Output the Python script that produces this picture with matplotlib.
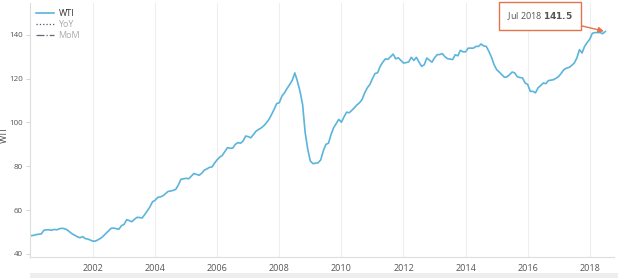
import matplotlib
matplotlib.use("Agg")
import matplotlib.pyplot as plt
from matplotlib.lines import Line2D
from matplotlib.patches import Rectangle
import numpy as np

plt.rcParams['font.family'] = ['Open Sans', 'DejaVu Sans']

start_year = 2000
wti = [
    # 2000
    48.3, 48.5, 48.8, 49.0, 49.1, 50.8, 51.0, 51.0, 50.8, 51.2, 51.0, 51.5,
    # 2001
    51.7, 51.5, 51.0, 50.0, 49.1, 48.5, 47.8, 47.4, 47.9, 47.0, 46.8, 46.3,
    # 2002
    45.8, 45.9, 46.5, 47.2, 48.2, 49.4, 50.5, 51.7, 51.8, 51.5, 51.3, 52.9,
    # 2003
    53.5, 55.6, 55.2, 54.7, 55.8, 56.7, 56.6, 56.4, 58.0, 59.7, 61.5, 63.8,
    # 2004
    64.5, 65.8, 66.0, 66.5, 67.5, 68.5, 68.7, 69.0, 69.5, 71.5, 74.1, 74.3,
    # 2005
    74.5, 74.3, 75.5, 76.7, 76.3, 75.9, 76.8, 78.2, 78.8, 79.5, 79.7, 81.5,
    # 2006
    83.0, 84.2, 85.0, 86.8, 88.5, 88.2, 88.3, 90.0, 90.8, 90.5, 91.5, 93.8,
    # 2007
    93.5, 93.0, 94.5, 96.0, 96.8, 97.5, 98.5, 99.8, 101.4, 103.6, 106.0, 108.6,
    # 2008
    109.0, 112.0, 113.5, 115.5, 117.3, 119.2, 122.6, 118.8, 114.2, 108.2, 95.3, 87.7,
    # 2009
    82.4, 81.2, 81.4, 81.6, 82.9, 87.0, 90.0, 90.5, 94.5, 97.6, 99.5, 101.4,
    # 2010
    100.1, 102.5, 104.7, 104.4, 105.5, 106.7, 108.0, 109.0, 110.5, 113.5, 115.8, 117.3,
    # 2011
    120.0, 122.3, 122.7, 125.6, 127.5, 129.0, 128.8, 130.0, 131.2, 129.0, 129.5, 128.3,
    # 2012
    127.1, 127.3, 127.6, 129.7, 128.3, 129.7, 127.5, 125.6, 126.3, 129.4, 128.4, 127.5,
    # 2013
    129.5, 130.9, 131.0, 131.4, 130.0, 129.1, 128.9, 128.7, 130.9, 130.4, 132.9, 132.2,
    # 2014
    132.2, 133.9, 133.9, 133.9, 134.7, 134.7, 135.8, 134.9, 134.7, 132.4, 129.8, 126.4,
    # 2015
    124.1, 123.0, 121.8, 120.6, 120.8, 121.8, 123.0, 122.6, 120.8, 120.5, 120.3, 118.0,
    # 2016
    117.3, 114.2, 114.2, 113.5, 115.8, 116.8, 118.0, 117.7, 119.1, 119.3, 119.5, 120.2,
    # 2017
    121.0, 122.5, 124.1, 124.8, 125.1, 126.0, 127.1, 129.4, 133.2, 131.7, 134.7, 136.5,
    # 2018
    138.0, 140.7, 141.0, 141.0, 141.0, 140.5, 141.5,
]
x_ticks = [2002, 2004, 2006, 2008, 2010, 2012, 2014, 2016, 2018]
y_ticks = [40, 60, 80, 100, 120, 140]
legend_labels = ["WTI", "YoY", "MoM"]
annot_label = "Jul 2018"
annot_value = 141.5

dates = start_year + np.arange(len(wti)) / 12.0

fig = plt.figure(figsize=(6.4, 2.78), dpi=100)
ax = fig.add_axes([30/640, 1 - 257/278, (614 - 30)/640, (257 - 3)/278])

line_color = '#5ab4dc'
ax.plot(dates, wti, color=line_color, lw=1.2)

ax.set_xlim(1999.97, 2018.78)
ax.set_ylim(38.6, 154.5)
ax.set_xticks(x_ticks)
ax.set_xticklabels([str(t) for t in x_ticks])
ax.set_yticks(y_ticks)
ax.tick_params(axis='x', length=0, labelsize=6.5, colors='#555555', pad=5)
ax.tick_params(axis='y', length=3, width=0.6, color='#cccccc', labelsize=5.8,
               labelcolor='#555555', pad=2)
ax.grid(axis='x', color='#eeeeee', lw=0.8)
ax.set_axisbelow(True)
for s in ['top', 'right']:
    ax.spines[s].set_visible(False)
for s in ['left', 'bottom']:
    ax.spines[s].set_color('#dddddd')
    ax.spines[s].set_linewidth(0.8)
ax.set_ylabel("WTI", fontsize=6.5, color='#444444')
ax.yaxis.set_label_coords(-0.036, 0.48)

handles = [
    Line2D([], [], color=line_color, lw=1.2),
    Line2D([], [], color='#555577', lw=0.9, ls=':'),
    Line2D([], [], color='#666677', lw=0.9, ls='-.'),
]
leg = ax.legend(handles, legend_labels, loc='upper left', frameon=False,
                fontsize=6.5, handlelength=2.0, handletextpad=0.45,
                labelspacing=0.22, borderaxespad=0.3, bbox_to_anchor=(0.0, 1.0))
for t, c in zip(leg.get_texts(), ['#333333', '#aaaaaa', '#aaaaaa']):
    t.set_color(c)

orange = '#e2734c'
ax.annotate(annot_label + " $\\mathbf{" + str(annot_value) + "}$",
            xy=(dates[-1], wti[-1]), xycoords='data',
            xytext=(540, 278 - 16), textcoords='figure pixels',
            ha='center', va='center', fontsize=6.5, color='#555555',
            bbox=dict(boxstyle='square,pad=0.85', fc='white', ec=orange, lw=1.0),
            arrowprops=dict(arrowstyle='-|>', color=orange, lw=1.0,
                            mutation_scale=8, shrinkA=0, shrinkB=1))

fig.patches.append(Rectangle((30/640, 0), (618 - 30)/640, 5/278,
                             transform=fig.transFigure, fc='#eeeeee', ec='none'))

fig.savefig("out.png", dpi=100)
